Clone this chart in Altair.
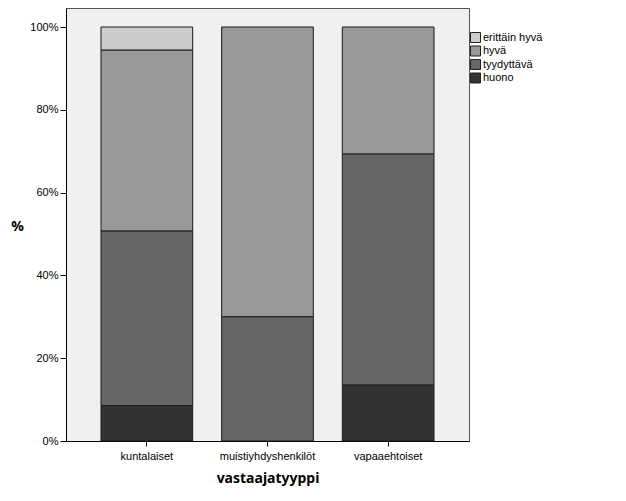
import altair as alt
import pandas as pd

groups = ["kuntalaiset", "muistiyhdyshenkilöt", "vapaaehtoiset"]
categories = ["erittäin hyvä", "hyvä", "tyydyttävä", "huono"]
colors = ["#CCCCCC", "#999999", "#666666", "#333333"]
erittain_hyva = [5.6, 0.0, 0.0]
hyva = [43.7, 70.0, 30.7]
tyydyttava = [42.2, 30.0, 55.8]
huono = [8.5, 0.0, 13.5]
y_ticks = [0, 0.2, 0.4, 0.6, 0.8, 1.0]

series = {"erittäin hyvä": erittain_hyva, "hyvä": hyva, "tyydyttävä": tyydyttava, "huono": huono}
rows = []
for cat, vals in series.items():
    for g, v in zip(groups, vals):
        if v > 0:
            rows.append({"ryhmä": g, "arvio": cat, "osuus": v / 100.0,
                         "järjestys": 3 - categories.index(cat)})
df = pd.DataFrame(rows)

FONT = "Liberation Sans"

chart = alt.Chart(df).mark_bar(stroke="#1a1a1a", strokeWidth=1).encode(
    x=alt.X("ryhmä:N", sort=groups,
            scale=alt.Scale(paddingInner=0.24, paddingOuter=0.29),
            axis=alt.Axis(title="vastaajatyyppi", labelAngle=0, labelFont=FONT,
                          labelFontSize=11, labelColor="#000000", labelPadding=4,
                          tickSize=5, tickColor="#000000", domainColor="#000000",
                          titleFont="Noto Sans", titleFontSize=14, titleFontWeight="bold",
                          titleColor="#000000", titlePadding=10)),
    y=alt.Y("osuus:Q", stack="zero",
            scale=alt.Scale(domain=[0, 1.0459], nice=False),
            axis=alt.Axis(title="%", values=y_ticks, format=".0%", grid=False,
                          labelFont=FONT, labelFontSize=11, labelColor="#000000",
                          labelPadding=2, tickSize=6, tickColor="#000000",
                          domainColor="#000000", titleAngle=0, titleFont="Noto Sans",
                          titleFontSize=14, titleFontWeight="bold", titleColor="#000000",
                          titleX=-49, titleY=218, titleAlign="center",
                          titleBaseline="middle")),
    color=alt.Color("arvio:N",
                    scale=alt.Scale(domain=categories, range=colors),
                    legend=alt.Legend(title=None, orient="none", legendX=404, legendY=24,
                                      labelFont=FONT, labelFontSize=11,
                                      labelColor="#000000", symbolType="square",
                                      symbolSize=100, symbolStrokeWidth=1,
                                      symbolStrokeColor="#222222", rowPadding=-1.5,
                                      labelOffset=2)),
    order=alt.Order("järjestys:Q", sort="ascending"),
).properties(
    width=403, height=433,
    autosize=alt.AutoSizeParams(type="none"),
    padding={"left": 58, "top": 0, "right": 100, "bottom": 50},
    background="#FFFFFF",
).configure_view(
    fill="#F0F0F0", stroke="#555555", strokeWidth=1
)

chart.save("out.html", embed_options={"renderer": "svg", "actions": False})
